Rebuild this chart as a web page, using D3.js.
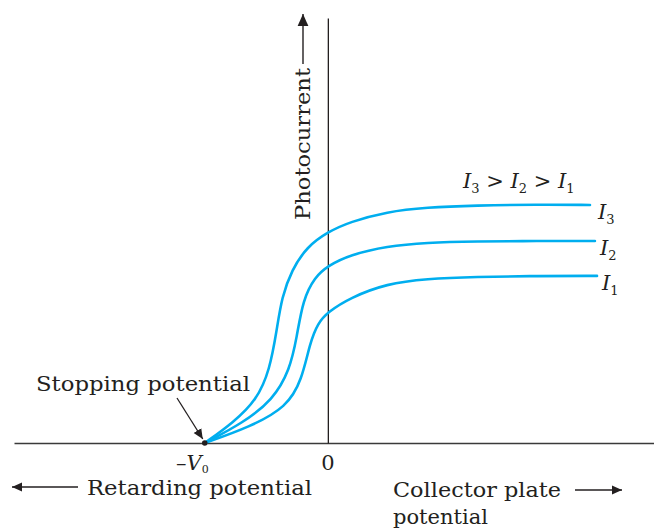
<!DOCTYPE html>
<html><head><meta charset="utf-8">
<script src="https://cdn.jsdelivr.net/npm/d3@7"></script>
<style>html,body{margin:0;padding:0;background:#fff;}svg{display:block;}</style>
</head><body>
<svg id="chart" width="654" height="529"></svg>
<script>
// Data (V in units of V0, photocurrent in arbitrary units; I3 saturation = 10)
const voltageI3 = [-1.0, -0.772, -0.577, -0.472, -0.415, -0.374, -0.293, -0.171, 0, 0.179, 0.48, 0.8, 1.2, 1.7, 2.13];
const currentI3 = [0, 0.84, 1.81, 3.07, 4.75, 6.13, 7.27, 8.24, 8.87, 9.29, 9.72, 9.9, 9.98, 10.02, 10.0];
const voltageI2 = [-1.0, -0.691, -0.447, -0.309, -0.252, -0.203, -0.106, 0, 0.179, 0.48, 0.8, 1.2, 1.7, 2.17];
const currentI2 = [0, 0.84, 1.81, 3.07, 4.45, 6.01, 6.97, 7.44, 7.9, 8.27, 8.42, 8.47, 8.49, 8.49];
const voltageI1 = [-1.0, -0.634, -0.333, -0.211, -0.146, -0.081, 0, 0.179, 0.48, 0.8, 1.2, 1.7, 2.187];
const currentI1 = [0, 0.67, 1.51, 2.65, 4.2, 5.04, 5.5, 6.1, 6.7, 6.9, 6.98, 7.02, 7.02];
const seriesNames = ["I3", "I2", "I1"];
const voltageRange = [-2.55, 2.65];
const currentRange = [0, 10];
const stoppingVoltage = -1.0;

const svg = d3.select("#chart");
const x = d3.scaleLinear().domain(voltageRange).range([14, 654]);
const y = d3.scaleLinear().domain(currentRange).range([443, 205]);
const ink = "#231f20", blue = "#00aeef";
const serif = "'DejaVu Serif', serif";

const defs = svg.append("defs");
defs.append("marker").attr("id","ah").attr("viewBox","0 0 10 10").attr("refX",10).attr("refY",5)
  .attr("markerWidth",10).attr("markerHeight",10).attr("markerUnits","userSpaceOnUse").attr("orient","auto")
  .append("path").attr("d","M0,0.5 L10,5 L0,9.5 Z").attr("fill",ink);
defs.append("marker").attr("id","ah2").attr("viewBox","0 0 10 10").attr("refX",10).attr("refY",5)
  .attr("markerWidth",12).attr("markerHeight",12).attr("markerUnits","userSpaceOnUse").attr("orient","auto")
  .append("path").attr("d","M0,0.5 L10,5 L0,9.5 Z").attr("fill",ink);

// x axis
const xAxis = svg.append("g").attr("transform", `translate(0,${y(0)})`)
  .call(d3.axisBottom(x).tickValues([]).tickSizeOuter(0));
xAxis.select(".domain").attr("stroke", "#3a3a3a").attr("stroke-width", 1.4);
// y axis at V=0
const yAxis = svg.append("g").attr("transform", `translate(${x(0)},0)`)
  .call(d3.axisLeft(d3.scaleLinear().domain(currentRange).range([443, 18])).tickValues([]).tickSizeOuter(0));
yAxis.select(".domain").attr("stroke", ink).attr("stroke-width", 1.3);

// curves
const line = d3.line().x(d => x(d[0])).y(d => y(d[1])).curve(d3.curveBasis);
const data = [d3.zip(voltageI3, currentI3), d3.zip(voltageI2, currentI2), d3.zip(voltageI1, currentI1)];
svg.selectAll("path.curve").data(data).join("path").attr("class","curve")
  .attr("d", line).attr("fill","none").attr("stroke", blue).attr("stroke-width", 2.6)
  .attr("stroke-linecap","round");

// stopping point dot
svg.append("circle").attr("cx", x(stoppingVoltage)).attr("cy", y(0)).attr("r", 2.8).attr("fill", ink);

function txt(t, px, py, size, len, opts={}) {
  const el = svg.append("text").attr("x", px).attr("y", py).attr("font-family", serif)
    .attr("font-size", size).attr("fill", ink).text(t);
  if (len) el.attr("textLength", len).attr("lengthAdjust", "spacingAndGlyphs");
  if (opts.italic) el.attr("font-style","italic");
  if (opts.anchor) el.attr("text-anchor", opts.anchor);
  return el;
}

// Stopping potential label + arrow
txt("Stopping potential", 36, 391, 21, 214);
svg.append("line").attr("x1",177).attr("y1",398).attr("x2",x(stoppingVoltage)-2).attr("y2",y(0)-4)
  .attr("stroke",ink).attr("stroke-width",1.3).attr("marker-end","url(#ah)");

// tick labels
const v0 = svg.append("text").attr("x", 176).attr("y", 470).attr("font-family", serif).attr("font-size", 21).attr("fill", ink);
v0.append("tspan").text("\u2013");
v0.append("tspan").attr("font-style","italic").text("V");
v0.append("tspan").attr("font-size", 11).attr("dy", 3).text("0");
txt("0", x(0), 470, 21, null, {anchor:"middle"});

// bottom labels
txt("Retarding potential", 87, 495, 21, 225);
svg.append("line").attr("x1",78).attr("y1",487).attr("x2",12).attr("y2",487)
  .attr("stroke",ink).attr("stroke-width",1.4).attr("marker-end","url(#ah)");
txt("Collector plate", 393, 497, 21, 168);
txt("potential", 393, 524, 21, 95);
svg.append("line").attr("x1",575).attr("y1",490).attr("x2",622).attr("y2",490)
  .attr("stroke",ink).attr("stroke-width",1.4).attr("marker-end","url(#ah)");

// Photocurrent label
svg.append("text").attr("transform","translate(310,220) rotate(-90)").attr("font-family", serif)
  .attr("font-size", 21).attr("fill", ink).attr("textLength",152).attr("lengthAdjust","spacingAndGlyphs")
  .text("Photocurrent");
svg.append("line").attr("x1",303).attr("y1",64).attr("x2",303).attr("y2",14)
  .attr("stroke",ink).attr("stroke-width",1.4).attr("marker-end","url(#ah2)");

// I labels
function ilabel(px, py, sub) {
  const t = svg.append("text").attr("x", px).attr("y", py).attr("font-family", serif)
    .attr("font-size", 21).attr("fill", ink);
  t.append("tspan").attr("font-style","italic").text("I");
  t.append("tspan").attr("font-size", 13).attr("dy", 5).text(sub);
  return t;
}
const labelV = [voltageI3[voltageI3.length-1], voltageI2[voltageI2.length-1], voltageI1[voltageI1.length-1]];
const labelI = [currentI3[currentI3.length-1], currentI2[currentI2.length-1], currentI1[currentI1.length-1]];
seriesNames.forEach((n, i) => {
  ilabel(x(labelV[i]) + 8 - (i===0?0:3), y(labelI[i]) + 14, n.slice(1));
});

// ordering label
const ord = svg.append("text").attr("x", 463).attr("y", 188).attr("font-family", serif).attr("font-size", 21).attr("fill", ink);
[["3"," > "],["2"," > "],["1",""]].forEach(([s, g]) => {
  ord.append("tspan").attr("font-style","italic").attr("dy", 0).text("I");
  ord.append("tspan").attr("font-size", 13).attr("dy", 5).text(s);
  if (g) ord.append("tspan").attr("dy", -5).text(g);
});
</script>
</body></html>
